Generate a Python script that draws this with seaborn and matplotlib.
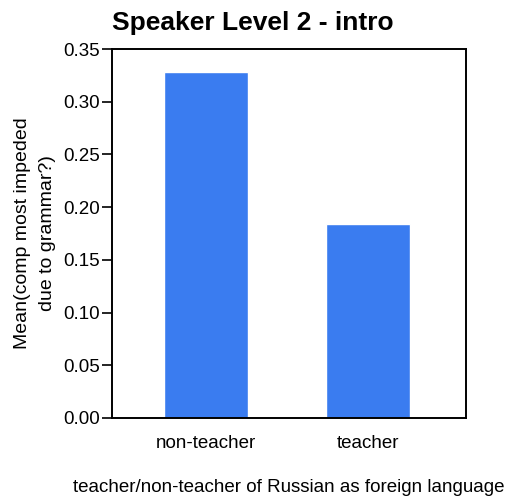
import matplotlib
matplotlib.use('Agg')
import matplotlib.pyplot as plt
import seaborn as sns
import pandas as pd

# data
groups = ['non-teacher', 'teacher']
means = [0.328, 0.184]

df = pd.DataFrame({'group': groups, 'mean': means})

sns.set_style('ticks')
plt.rcParams['font.family'] = ['Liberation Sans', 'DejaVu Sans']
plt.rcParams['text.color'] = 'black'
plt.rcParams['axes.labelcolor'] = 'black'

fig = plt.figure(figsize=(5.05, 5.0), dpi=100)
ax = fig.add_axes([112 / 505, 82 / 500, 354 / 505, 369 / 500])

sns.barplot(data=df, x='group', y='mean', color='#3a7cf0', width=0.52,
            saturation=1, ax=ax)

ax.set_xlim(-0.583, 1.607)
ax.set_ylim(0, 0.35)
ax.set_yticks([0.0, 0.05, 0.10, 0.15, 0.20, 0.25, 0.30, 0.35])
ax.set_yticklabels(['%.2f' % v for v in ax.get_yticks()])

for s in ax.spines.values():
    s.set_visible(True)
    s.set_color('black')
    s.set_linewidth(1.4)

ax.tick_params(axis='y', direction='out', length=7, width=1.2, pad=1.5,
               labelsize=13.5, colors='black')
ax.tick_params(axis='x', length=0, labelsize=13.5, pad=12, colors='black')

# title is centred on the whole figure, not on the axes
fig.suptitle('Speaker Level 2 - intro', fontsize=19, fontweight='bold',
             x=0.5, y=1 - 35 / 500, va='bottom')
ax.set_ylabel('Mean(comp most impeded\ndue to grammar?)', fontsize=14,
              labelpad=5, linespacing=1.65)
ax.set_xlabel('teacher/non-teacher of Russian as foreign language', fontsize=13.5, labelpad=20)

fig.savefig('out.png', dpi=100)
